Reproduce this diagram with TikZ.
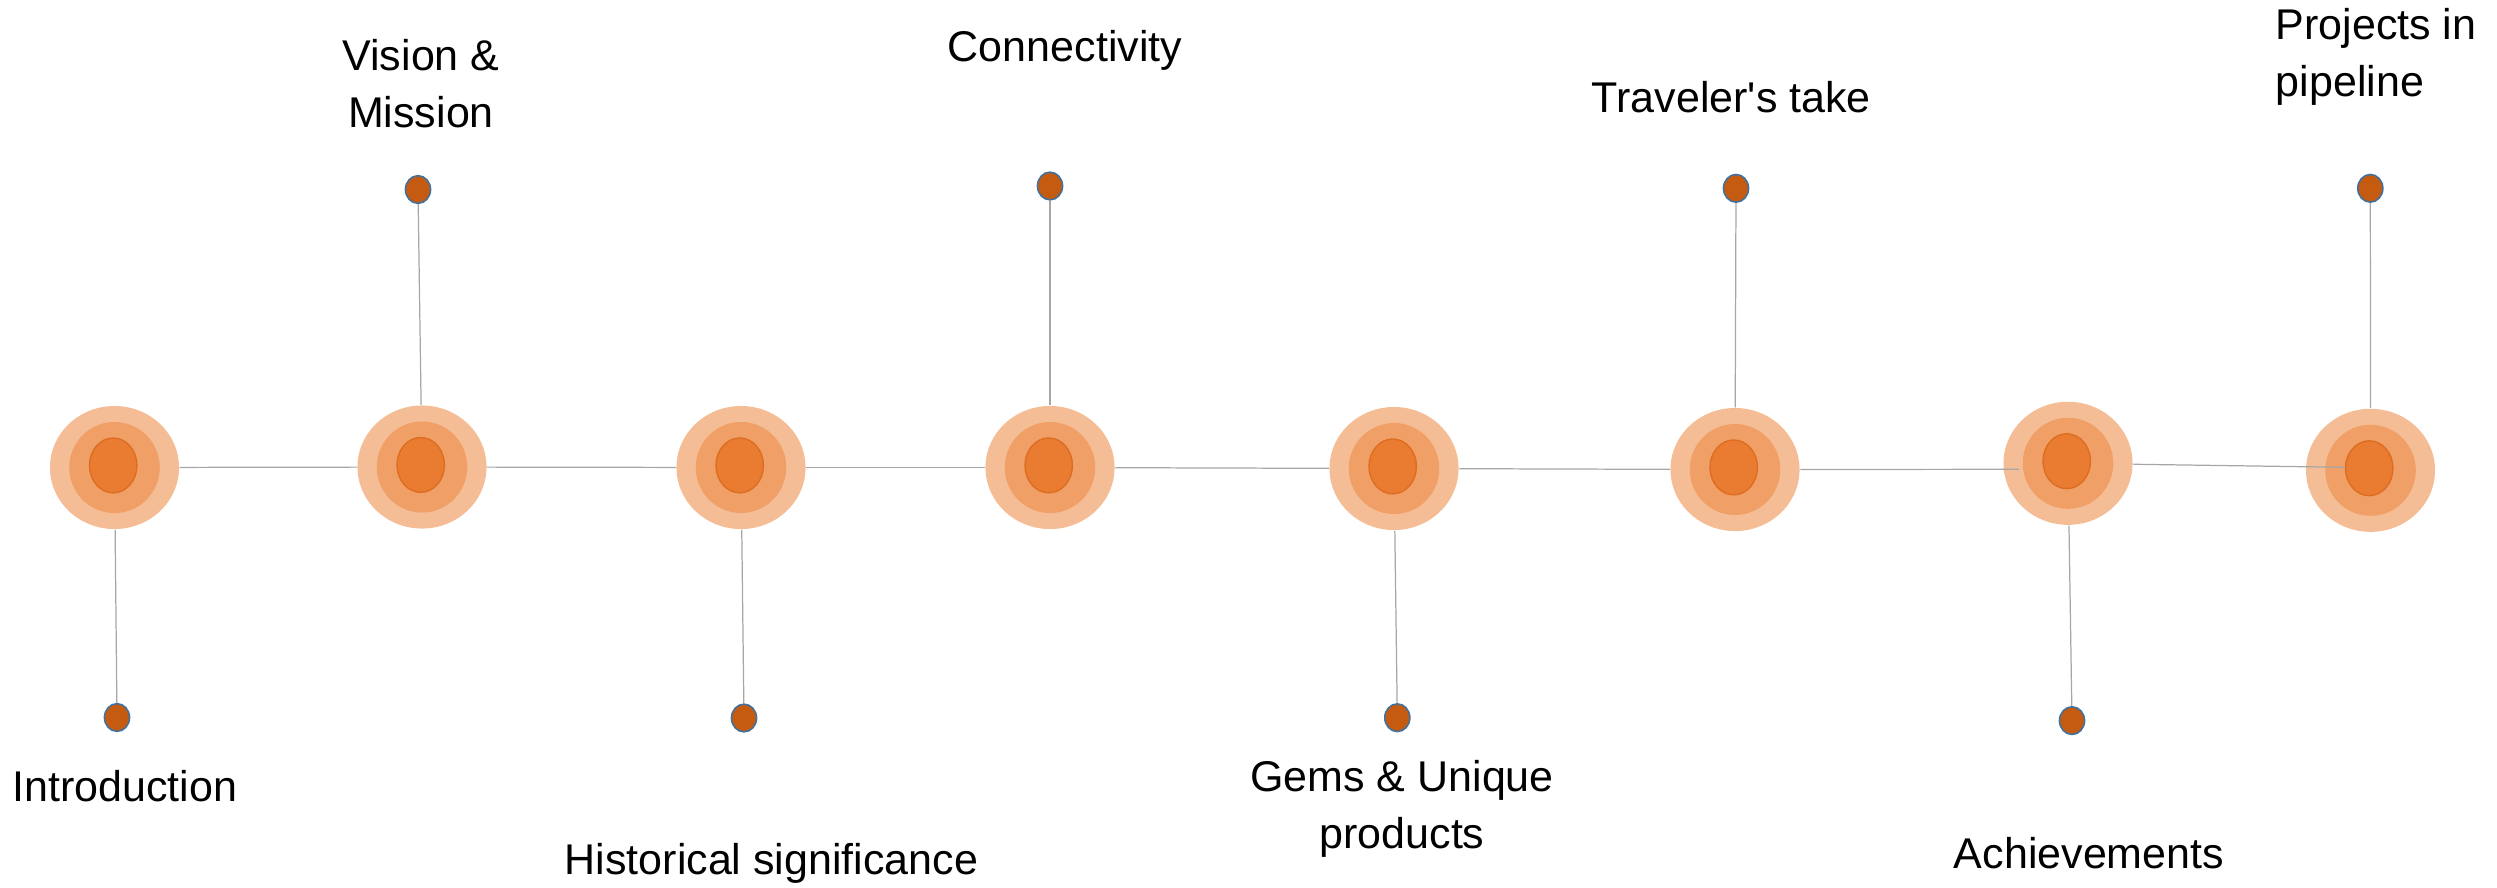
\documentclass[tikz,border=0pt]{standalone}
\usepackage{fontspec}
\setmainfont{Liberation Sans}[Ligatures=TeXOff]
\usetikzlibrary{shapes.geometric}
\definecolor{ringA}{HTML}{F4BD96}
\definecolor{ringB}{HTML}{F0A066}
\definecolor{ringC}{HTML}{EA7C31}
\definecolor{ringCedge}{HTML}{DC6D22}
\definecolor{dotfill}{HTML}{C55A11}
\definecolor{dotedge}{HTML}{41719C}
\definecolor{conn}{HTML}{A6A6A6}
\pgfdeclarelayer{background}
\pgfsetlayers{background,main}
\begin{document}
\begin{tikzpicture}[x=0.01cm,y=-0.01cm,
  outerring/.style={ellipse,fill=ringA,minimum width=1.29cm,minimum height=1.23cm,inner sep=0pt},
  midring/.style={ellipse,fill=ringB,minimum width=0.905cm,minimum height=0.91cm,inner sep=0pt},
  innerring/.style={ellipse,fill=ringC,draw=ringCedge,line width=0.4pt,minimum width=0.474cm,minimum height=0.548cm,inner sep=0pt},
  milestone/.style={ellipse,fill=dotfill,draw=dotedge,line width=0.45pt,minimum width=0.251cm,minimum height=0.277cm,inner sep=0pt},
  link/.style={draw=conn,line width=0.35pt},
  tlabel/.style={inner sep=0pt,font=\fontsize{12.23}{16.2}\selectfont,text=black},
]
\useasboundingbox (0,0) rectangle (2497,887);

% timeline targets
\foreach \n/\x/\y in {c1/114.5/467.5, c2/422/467, c3/741/467.5, c4/1050/467.5,
                      c5/1394/468.5, c6/1735/469.5, c7/2068/463.3, c8/2370.5/470.3}{
  \node[outerring] (\n) at (\x,\y) {};
  \node[midring] (\n-m) at (\x,\y) {};
  \node[innerring] (\n-i) at (\x-1.3,\y-2.1) {};
}

% milestone dots
\foreach \n/\x/\y in {d1/117/717.5, d2/418/189.5, d3/744/718, d4/1050/186,
                      d5/1397.3/717.7, d6/1736/188.3, d7/2072/720.6, d8/2370.3/188.3}{
  \node[milestone] (\n) at (\x,\y) {};
}

% connectors behind the targets
\begin{pgfonlayer}{background}
  \draw[link] (c1) -- (c2);
  \draw[link] (c2) -- (c3);
  \draw[link] (c3) -- (c4);
  \draw[link] (c4) -- (c5);
  \draw[link] (c5) -- (c6);
  \foreach \i in {1,...,8}{
    \draw[link] (d\i) -- (c\i);
  }
\end{pgfonlayer}

% connectors running over the last targets
\coordinate (p67) at (2019,469.3);
\coordinate (p78) at (2345,467.3);
\draw[link] (c6) -- (p67);
\draw[link] (c7) -- (p78);

% labels (for two-line labels the base anchor is the last line)
\node[tlabel,anchor=base west] (t1) at (11.6,801) {Introduction};
\node[tlabel,anchor=base,align=center] (t2) at (421,127.3) {Vision \&\\Mission};
\node[tlabel,anchor=base west] (t3) at (564,874.3) {Historical significance};
\node[tlabel,anchor=base] (t4) at (1065,61) {Connectivity};
\node[tlabel,anchor=base,align=center] (t5) at (1402,848.3) {Gems \& Unique\\products};
\node[tlabel,anchor=base west] (t6) at (1591,112.7) {Traveler's take};
\node[tlabel,anchor=base] (t7) at (2089,868.2) {Achievements};
\node[tlabel,anchor=base west,align=left] (t8) at (2275,96.7) {Projects in\\pipeline};
\end{tikzpicture}
\end{document}
